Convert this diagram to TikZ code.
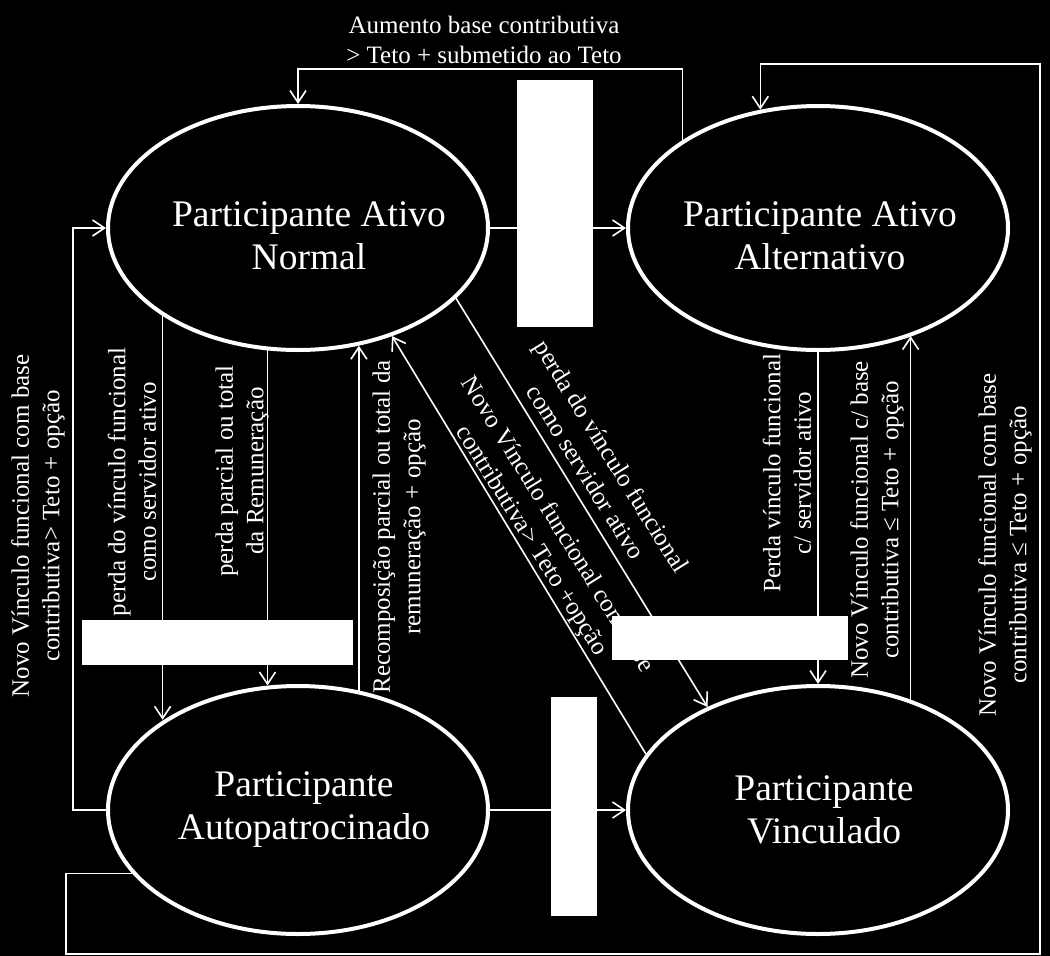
\documentclass[tikz,border=0pt]{standalone}
\usepackage{fontspec}
\setmainfont{Liberation Serif}
\usetikzlibrary{shapes.geometric,arrows.meta}
\begin{document}
\begin{tikzpicture}[x=1pt,y=-1pt,
  state/.style={ellipse, draw=white, line width=4pt, fill=black, minimum width=380pt, minimum height=244pt, inner sep=0pt},
  stxt/.style={text=white, font=\fontsize{37.5}{43}\selectfont, align=center},
  lbl/.style={text=white, font=\fontsize{25}{30.5}\selectfont, align=center, inner sep=0pt},
  conn/.style={draw=white, line width=1.6pt, -{Straight Barb[length=12pt,width=16pt,line width=1.6pt]}},
  blank/.style={fill=white, draw=none}]
\fill[black] (0,0) rectangle (1050,956);
\useasboundingbox (0,0) rectangle (1050,956);

% states
\node[state, label={[stxt, xshift=11pt, yshift=-8pt]center:{Participante Ativo\\Normal}}] (an) at (298,228) {};
\node[state, label={[stxt, xshift=2pt, yshift=-8pt]center:{Participante Ativo\\Alternativo}}] (aa) at (818,228) {};
\node[state, minimum height=248pt, label={[stxt, xshift=6pt]center:{Participante\\Autopatrocinado}}] (ap) at (298,810) {};
\node[state, minimum height=248pt, label={[stxt, xshift=6pt]center:{Participante\\Vinculado}}] (v) at (818,810) {};

% helper coordinates
\coordinate (topy) at (0,69);
\coordinate (bl) at (66,954);
\coordinate (br) at (1040,954);
\coordinate (tr) at (1040,64);
\coordinate (lx) at (73,810);

% connectors
\draw[conn] (aa.147) -- (aa.147 |- topy) -| (an.north);
\draw[conn] (ap.201) -| (bl) -- (br) -- (tr) -| (aa.116);
\draw[conn] (ap.west) -- (lx) |- (an.west);
\draw[conn] (an.east) -- (aa.west);
\draw[conn] (ap.east) -- (v.west);
\draw[conn] (an.213) -- (an.213 |- ap.146);
\draw[conn] (an.256) -- (an.256 |- ap.103);
\draw[conn] (ap.63) -- (ap.63 |- an.-63);
\draw[conn] (an.-24) -- (v.137);
\draw[conn] (v.162) -- (an.-49);
\draw[conn] (aa.south) -- (v.north);
\draw[conn] (v.50) -- (v.50 |- aa.-49);

% labels
\node[lbl] (l0) at (484,40) {Aumento base contributiva\\> Teto + submetido ao Teto};
\node[lbl, rotate=90] (l1) at (38,526) {Novo Vínculo funcional com base\\contributiva> Teto + opção};
\node[lbl, rotate=90] (l2) at (132,482) {perda do vínculo funcional\\como servidor ativo};
\node[lbl, rotate=90] (l3) at (242,471) {perda parcial ou total\\da Remuneração};
\node[lbl, rotate=90] (l4) at (399,527) {Recomposição parcial ou total da\\remuneração + opção};
\node[lbl, rotate=-58] (l5) at (599,464) {perda do vínculo funcional\\como servidor ativo};
\node[lbl, rotate=-58] (l6) at (544,533) {Novo Vínculo funcional com base\\contributiva> Teto +opção};
\node[lbl, rotate=90] (l7) at (787,473) {Perda vínculo funcional\\c/ servidor ativo};
\node[lbl, rotate=90] (l8) at (877,520) {Novo Vínculo funcional c/ base\\contributiva ≤ Teto + opção};
\node[lbl, rotate=90] (l9) at (1005,545) {Novo Vínculo funcional com base\\contributiva ≤ Teto + opção};

% white blocks
\fill[blank] (517,80) rectangle (593,327);
\fill[blank] (82,620) rectangle (353,665);
\fill[blank] (612,616) rectangle (848,660);
\fill[blank] (551,697) rectangle (597,916);
\end{tikzpicture}
\end{document}
